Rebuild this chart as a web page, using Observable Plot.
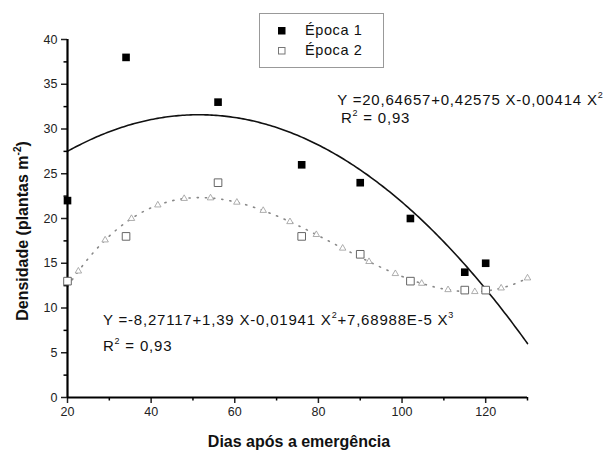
<!DOCTYPE html>
<html><head><meta charset="utf-8">
<script src="https://cdn.jsdelivr.net/npm/d3@7"></script>
<script src="https://cdn.jsdelivr.net/npm/@observablehq/plot@0.6"></script>
<style>
body{margin:0;background:#fff;}
svg{font-family:"Liberation Sans",Arial,sans-serif;}
</style>
</head><body><div id="chart"></div>
<script>
// Data
const dias = [20, 34, 56, 76, 90, 102, 115, 120];
const epoca1 = [22, 38, 33, 26, 24, 20, 14, 15];
const epoca2 = [13, 18, 24, 18, 16, 13, 12, 12];
// Fitted equations as printed on the chart
const coef1 = [20.64657, 0.42575, -0.00414];
const coef2 = [-8.27117, 1.39, -0.01941, 7.68988e-5];
// x positions of the triangle markers along the cubic fit
const markerX = [22.6, 29, 35.3, 41.6, 47.9, 54.2, 60.5, 66.8, 73.2, 79.5, 85.8, 92.1, 98.4, 104.7, 111, 117.4, 123.7, 130];
const xTicks = [20, 40, 60, 80, 100, 120];
const xMinor = [30, 50, 70, 90, 110, 130];
const yTicks = [0, 5, 10, 15, 20, 25, 30, 35, 40];
const yMinor = [2.5, 7.5, 12.5, 17.5, 22.5, 27.5, 32.5, 37.5];
const seriesNames = ["Época 1", "Época 2"];
const eq1Text = ["Y =20,64657+0,42575 X-0,00414 X", "2"];
const eq2Text = ["Y =-8,27117+1,39 X-0,01941 X", "2", "+7,68988E-5 X", "3"];
const r2Text = "0,93";

const poly = (c, x) => c.reduce((s, k, i) => s + k * Math.pow(x, i), 0);
const xs = d3.range(20, 130.001, 0.5);
const curve1 = xs.map(x => ({x, y: poly(coef1, x)}));
const curve2 = xs.map(x => ({x, y: poly(coef2, x)}));
const tri = markerX.map(x => ({x, y: poly(coef2, x)}));
const pts1 = dias.map((d, i) => ({x: d, y: epoca1[i]}));
const pts2 = dias.map((d, i) => ({x: d, y: epoca2[i]}));

const plot = Plot.plot({
  width: 609, height: 453,
  marginLeft: 67, marginRight: 82, marginTop: 39, marginBottom: 56,
  x: {domain: [20, 130]},
  y: {domain: [0, 40]},
  style: {fontFamily: '"Liberation Sans", Arial, sans-serif', background: "white"},
  marks: [
    Plot.axisX({ticks: xTicks, tickSize: 6, tickPadding: 4, fontSize: 12.5, strokeWidth: 1.5, tickFormat: d => d, label: null, color: "#222"}),
    Plot.axisX({ticks: xMinor, tickSize: 3.5, strokeWidth: 1.5, tickFormat: () => "", label: null}),
    Plot.axisY({ticks: yTicks, tickSize: 6, tickPadding: 4, fontSize: 12.5, strokeWidth: 1.5, tickFormat: d => d, label: null, color: "#222"}),
    Plot.axisY({ticks: yMinor, tickSize: 3.5, strokeWidth: 1.5, tickFormat: () => "", label: null}),
    Plot.line(curve2, {x: "x", y: "y", stroke: "#888", strokeWidth: 1.6, strokeDasharray: "1.2,7", strokeLinecap: "round"}),
    Plot.dot(tri, {x: "x", y: "y", symbol: "triangle", r: 2.4, stroke: "#999", fill: "white", strokeWidth: 0.8}),
    Plot.line(curve1, {x: "x", y: "y", stroke: "#111", strokeWidth: 1.6}),
    Plot.ruleY([0], {stroke: "black", strokeWidth: 2.2}),
    Plot.ruleX([20], {stroke: "black", strokeWidth: 2.2}),
    Plot.dot(pts2, {x: "x", y: "y", symbol: "square", r: 4.3, stroke: "#666", fill: "white", strokeWidth: 1}),
    Plot.dot(pts1, {x: "x", y: "y", symbol: "square", r: 4.3, fill: "black", stroke: "none"})
  ]
});

const svg = d3.select(plot);
const sx = plot.scale("x").apply, sy = plot.scale("y").apply;

function supText(x, y, parts, size, ls) {
  const t = svg.append("text").attr("x", x).attr("y", y)
    .attr("text-anchor", "start")
    .attr("font-size", size).attr("letter-spacing", ls).attr("fill", "#111")
    .attr("dominant-baseline", "middle");
  parts.forEach((p, i) => {
    if (i % 2 === 0) t.append("tspan").attr("dy", i === 0 ? 0 : 5).text(p);
    else t.append("tspan").attr("dy", -5).attr("font-size", size * 0.6).text(p);
  });
  return t;
}

// Equations
supText(sx(84.6), sy(33.1), eq1Text, 15, 0.8);
supText(sx(85.5), sy(31.1), ["R", "2", " = " + r2Text], 15, 0.8);
supText(sx(28.6), sy(8.5), eq2Text, 15, 0.8);
supText(sx(28.6), sy(5.6), ["R", "2", " = " + r2Text], 15, 0.8);

// Axis titles
svg.append("text").attr("x", 299).attr("y", 443).attr("text-anchor", "middle")
  .attr("dominant-baseline", "middle").attr("font-size", 16).attr("font-weight", "bold")
  .attr("fill", "#111").text("Dias após a emergência");
const yt = svg.append("text").attr("transform", "translate(24,231) rotate(-90)")
  .attr("text-anchor", "middle").attr("dominant-baseline", "middle")
  .attr("font-size", 16).attr("font-weight", "bold").attr("fill", "#111");
yt.append("tspan").text("Densidade (plantas m");
yt.append("tspan").attr("dy", -6).attr("font-size", 10).text("-2");
yt.append("tspan").attr("dy", 6).text(")");

// Legend
const lg = svg.append("g");
lg.append("rect").attr("x", 259.5).attr("y", 13.5).attr("width", 124).attr("height", 54)
  .attr("fill", "white").attr("stroke", "#999").attr("stroke-width", 1);
lg.append("rect").attr("x", 278).attr("y", 27).attr("width", 7.5).attr("height", 7.5).attr("fill", "black");
lg.append("rect").attr("x", 278.5).attr("y", 47.5).attr("width", 6.5).attr("height", 6.5)
  .attr("fill", "white").attr("stroke", "#777").attr("stroke-width", 1);
seriesNames.forEach((n, i) => {
  lg.append("text").attr("x", 305).attr("y", 31 + i * 20).attr("dominant-baseline", "middle")
    .attr("text-anchor", "start")
    .attr("font-size", 14.5).attr("letter-spacing", 0.6).attr("fill", "#111").text(n);
});

document.getElementById("chart").appendChild(plot);
</script>
</body></html>
